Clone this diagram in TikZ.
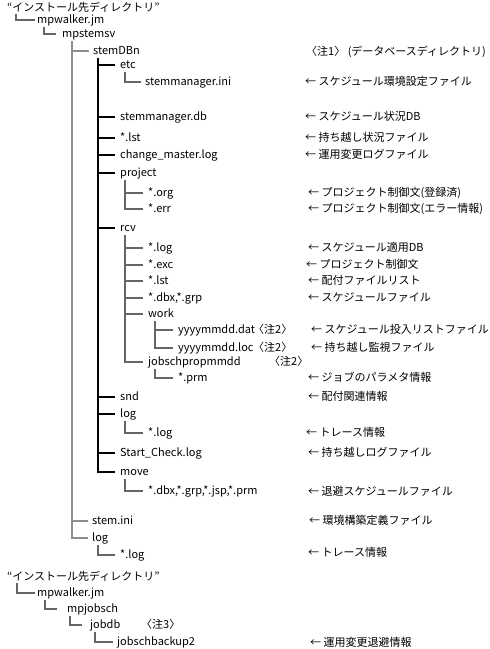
\documentclass[tikz,border=0pt]{standalone}
\usepackage{fontspec}
\setmainfont{Noto Sans CJK JP}
\tikzset{
  item/.style={anchor=west, inner sep=0pt, text height=7.5pt, text depth=0pt},
  branch/.style={draw=black!60, line width=1.2pt},
  mainbranch/.style={branch, draw=black},
  lightbranch/.style={branch, draw=black!45}
}
\begin{document}
\begin{tikzpicture}[x=1pt, y=-1pt, font=\fontsize{11}{13}\selectfont]
  \useasboundingbox (0,0) rectangle (490,649);
  % first tree
  \node[item] (inst) at (7,8) {“インストール先ディレクトリ”};
  \node[item] (walker) at (37,20) {mpwalker.jm};
  \node[item] (stemsv) at (62,34) {mpstemsv};
  \node[item] (sdb) at (93,51) {stemDBn};
  \node[item] (etc) at (120,65) {etc};
  \node[item] (smini) at (145,82) {stemmanager.ini};
  \node[item] (smdb) at (120,117) {stemmanager.db};
  \node[item] (lst) at (120,138) {*.lst};
  \node[item] (chg) at (120,155) {change\_master.log};
  \node[item] (proj) at (120,173) {project};
  \node[item] (org) at (148,193) {*.org};
  \node[item] (err) at (148,209) {*.err};
  \node[item] (rcv) at (120,228) {rcv};
  \node[item] (rlog) at (148,248) {*.log};
  \node[item] (exc) at (148,265) {*.exc};
  \node[item] (rlst) at (148,281) {*.lst};
  \node[item] (dbx) at (148,298) {*.dbx,*.grp};
  \node[item] (work) at (148,314) {work};
  \node[item] (dat) at (178,330) {yyyymmdd.dat};
  \node[item] (loc) at (178,348) {yyyymmdd.loc};
  \node[item] (jprop) at (148,362) {jobschpropmmdd};
  \node[item] (prm) at (178,378) {*.prm};
  \node[item] (snd) at (120,397) {snd};
  \node[item] (slog) at (120,414) {log};
  \node[item] (slogf) at (148,433) {*.log};
  \node[item] (start) at (120,453) {Start\_Check.log};
  \node[item] (move) at (120,472) {move};
  \node[item] (mvf) at (148,491) {*.dbx,*.grp,*.jsp,*.prm};
  \node[item] (ini) at (92,521) {stem.ini};
  \node[item] (log) at (92,538) {log};
  \node[item] (logf) at (120,555) {*.log};
  % notes
  \node[item] (n1) at (306,52) {〈注1〉 (データベースディレクトリ)};
  \node[item] (n2a) at (253,330) {〈注2〉};
  \node[item] (n2b) at (253,348) {〈注2〉};
  \node[item] (n2c) at (269,362) {〈注2〉};
  \node[item] (n3) at (141,625) {〈注3〉};
  % descriptions
  \node[item] (d1) at (305,82) {← スケジュール環境設定ファイル};
  \node[item] (d2) at (305,117) {← スケジュール状況DB};
  \node[item] (d3) at (305,138) {← 持ち越し状況ファイル};
  \node[item] (d4) at (305,155) {← 運用変更ログファイル};
  \node[item] (d5) at (308,193) {← プロジェクト制御文(登録済)};
  \node[item] (d6) at (308,209) {← プロジェクト制御文(エラー情報)};
  \node[item] (d7) at (308,248) {← スケジュール適用DB};
  \node[item] (d8) at (306,265) {← プロジェクト制御文};
  \node[item] (d9) at (308,281) {← 配付ファイルリスト};
  \node[item] (d10) at (308,298) {← スケジュールファイル};
  \node[item] (d11) at (311,330) {← スケジュール投入リストファイル};
  \node[item] (d12) at (311,348) {← 持ち越し監視ファイル};
  \node[item] (d13) at (308,378) {← ジョブのパラメタ情報};
  \node[item] (d14) at (308,397) {← 配付関連情報};
  \node[item] (d15) at (306,433) {← トレース情報};
  \node[item] (d16) at (308,453) {← 持ち越しログファイル};
  \node[item] (d17) at (308,492) {← 退避スケジュールファイル};
  \node[item] (d18) at (309,521) {← 環境構築定義ファイル};
  \node[item] (d19) at (308,553) {← トレース情報};

  % trunk tops
  \coordinate (instT) at ([shift={(9pt,-2pt)}]inst.south west);
  \coordinate (walkerT) at ([shift={(7pt,-3pt)}]walker.south west);
  \coordinate (stemsvT) at ([shift={(10pt,-3pt)}]stemsv.south west);
  \coordinate (sdbT) at ([shift={(5pt,-3pt)}]sdb.south west);
  \coordinate (etcT) at ([shift={(5pt,-3pt)}]etc.south west);
  \coordinate (projT) at ([shift={(5pt,-3pt)}]proj.south west);
  \coordinate (rcvT) at ([shift={(5pt,-3pt)}]rcv.south west);
  \coordinate (workT) at ([shift={(7pt,-3pt)}]work.south west);
  \coordinate (jpropT) at ([shift={(7pt,-3pt)}]jprop.south west);
  \coordinate (slogT) at ([shift={(5pt,-3pt)}]slog.south west);
  \coordinate (moveT) at ([shift={(5pt,-3pt)}]move.south west);
  \coordinate (logT) at ([shift={(6pt,-3pt)}]log.south west);

  \draw[branch] (instT) |- ([xshift=-2pt]walker.west);
  \draw[branch] (walkerT) |- ([xshift=-6pt]stemsv.west);
  \draw[lightbranch] (stemsvT) |- ([xshift=-4pt]log.west);
  \foreach \c in {sdb,ini}
    \draw[lightbranch] (stemsvT |- \c.west) -- ([xshift=-4pt]\c.west);
  \draw[mainbranch] (sdbT) |- ([xshift=-5pt]move.west);
  \foreach \c in {etc,smdb,lst,chg,proj,rcv,snd,slog,start}
    \draw[mainbranch] (sdbT |- \c.west) -- ([xshift=-5pt]\c.west);
  \draw[branch] (etcT) |- ([xshift=-4pt]smini.west);
  \draw[branch] (projT) |- ([xshift=-5pt]err.west);
  \draw[branch] (projT |- org.west) -- ([xshift=-5pt]org.west);
  \draw[branch] (rcvT) |- ([xshift=-5pt]jprop.west);
  \foreach \c in {rlog,exc,rlst,dbx,work}
    \draw[branch] (rcvT |- \c.west) -- ([xshift=-5pt]\c.west);
  \draw[branch] (workT) |- ([xshift=-5pt]loc.west);
  \draw[branch] (workT |- dat.west) -- ([xshift=-5pt]dat.west);
  \draw[branch] (jpropT) |- ([xshift=-5pt]prm.west);
  \draw[branch] (slogT) |- ([xshift=-5pt]slogf.west);
  \draw[branch] (moveT) |- ([xshift=-5pt]mvf.west);
  \draw[branch] (logT) |- ([xshift=-5pt]logf.west);

  % second tree
  \node[item] (inst2) at (7,577) {“インストール先ディレクトリ”};
  \node[item] (walker2) at (37,593) {mpwalker.jm};
  \node[item] (jobsch) at (67,609) {mpjobsch};
  \node[item] (jobdb) at (90,625) {jobdb};
  \node[item] (backup) at (117,642) {jobschbackup2};
  \node[item] (d20) at (310,643) {← 運用変更退避情報};
  \coordinate (inst2T) at ([shift={(10pt,-2pt)}]inst2.south west);
  \coordinate (walker2T) at ([shift={(8pt,-3pt)}]walker2.south west);
  \coordinate (jobschT) at ([shift={(3pt,-3pt)}]jobsch.south west);
  \coordinate (jobdbT) at ([shift={(5pt,-3pt)}]jobdb.south west);
  \draw[branch] (inst2T) |- ([xshift=-2pt]walker2.west);
  \draw[branch] (walker2T) |- ([xshift=-10pt]jobsch.west);
  \draw[branch] (jobschT) |- ([xshift=-8pt]jobdb.west);
  \draw[branch] (jobdbT) |- ([xshift=-4pt]backup.west);
\end{tikzpicture}
\end{document}
